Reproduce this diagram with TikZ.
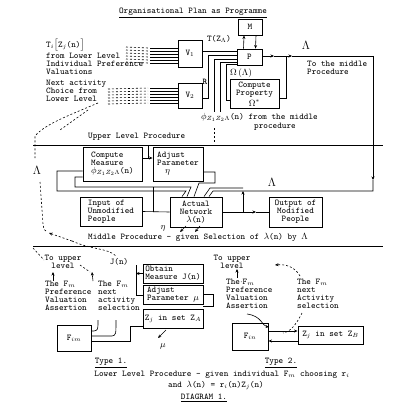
\documentclass[tikz,border=0pt]{standalone}
\usetikzlibrary{arrows.meta}
\begin{document}
\begin{tikzpicture}[x=1pt,y=-1pt,
 every node/.style={font=\fontsize{8.8}{8}\selectfont\ttfamily, inner sep=0pt},
 box/.style={draw, line width=0.9pt, inner sep=1.5pt, align=center},
 txt/.style={align=left, anchor=north west},
 ln/.style={line width=0.6pt},
 arr/.style={line width=0.6pt, -{Stealth[length=3.5pt,width=3pt]}},
 dsh/.style={line width=0.6pt, dash pattern=on 2pt off 2pt},
 dsharr/.style={line width=0.6pt, dash pattern=on 2pt off 2pt, -{Stealth[length=3.5pt,width=3pt]}},
 biglam/.style={font=\large}]
\fill[white] (0,0) rectangle (400,412);
\useasboundingbox (0,0) rectangle (400,412);

% ---------- title
\node (title) at (193,13) {\underline{Organisational Plan as Programme}};

% ---------- upper level
\node[txt] (tz) at (46,39) {T$_i\big[$Z$_j$(n)$\big]$};
\node[txt] (fll) at (46,53) {from Lower Level\\Individual Preference\\Valuations};
\node[txt] (nac) at (46,80) {Next activity\\Choice from\\Lower Level};

\node[box, minimum width=24, minimum height=27] (V1) at (190,53.5) {V$_1$};
\node[box, minimum width=24, minimum height=25] (V2) at (190,95.5) {V$_2$};
\node[box, minimum width=24, minimum height=16] (M) at (250,27) {M};
\node[box, minimum width=25, minimum height=16] (P) at (249.5,57) {P};
\node[box, minimum width=49, minimum height=29, inner sep=1pt] (CP) at (254.5,94) {Compute\\Property\\[1.5pt]$\Omega^*$};

\node (tzl) at (219,39) {T(Z$_\Lambda$)};
\node[biglam] (lam1) at (306,45) {$\Lambda$};
\node[txt] (tmp) at (307,61) {To the middle\\Procedure};
\node (om) at (241,73) {$\Omega\,(\Lambda)$};
\node (rr) at (205,82) {\textbf{R}};
\node[anchor=west] (phi) at (201,117) {$\phi_{Z_1Z_2\Lambda}$(n) from the middle};
\node (proc) at (275,127) {procedure};

% hatching into V1 / V2
\foreach \y in {48,51,54,57,60,63} {
  \draw[ln] (150,\y) -- (V1.west |- 0,\y);
  \draw[dsh] (126,\y-1) -- (148,\y);
}
\foreach \y in {88,91,94,97,100,103} {
  \draw[ln] (150,\y) -- (V2.west |- 0,\y);
  \draw[dsh] (108,\y+1) -- (148,\y);
}

% P and M
\draw[arr] ([xshift=-6pt]P.north) -- ([xshift=-6pt]M.south);
\draw[arr] ([xshift=6pt]M.south) -- ([xshift=6pt]P.north);
% inputs into P
\draw[ln] (V1.east |- 0,51) -- (P.west |- 0,51);
\draw[ln] (V2.east |- 0,98) -| (208,55) -- (P.west |- 0,55);
\draw[ln] (P.west |- 0,59) -| (214,112);
\draw[ln] (P.west |- 0,62) -| (220,112);
\draw[ln] (P.west |- 0,64) -| (226,100) -- (CP.west |- 0,100);
% output of P
\coordinate (R1) at (373,56);
\coordinate (R2) at (373,191);
\draw[arr] (P.east |- 0,56) -- (274,56);
\draw[arr] (274,56) -- (292,56);
\draw[ln] (292,56) -- (R1);
\draw[ln] (CP.east |- 0,98) -| (286,56);
\draw[arr] (R1) -- (373,180);
\draw[dsh] (214,128) -- (214,143);

% ---------- separators
\node[anchor=west] (ulp) at (88,137) {Upper Level Procedure};
\draw[line width=0.8pt] (33,145) -- (383,145);
\draw[line width=0.8pt] (33,246) -- (383,246);

% ---------- middle level
\node[box, minimum width=59, minimum height=34, align=left] (CM) at (112.5,164) {Compute\\Measure\\$\phi_{Z_1Z_2\Lambda}$(n)};
\node[box, minimum width=50, minimum height=34, align=left] (AP) at (178,164) {Adjust\\Parameter\\\hspace{8pt}$\eta$};
\node[box, minimum width=62, minimum height=29, align=left] (IN) at (111,211.5) {Input of\\Unmodified\\People};
\node[box, minimum width=52, minimum height=30] (AN) at (196,212) {Actual\\Network\\$\lambda$(n)};
\node[box, minimum width=53, minimum height=30] (OUT) at (295.5,212) {Output of\\Modified\\People};

\node[biglam] (lam2) at (37,170) {$\Lambda$};
\node[biglam] (lam3) at (272,182) {$\Lambda$};
\node (eta) at (163,228) {$\eta$};
\node[anchor=west] (mpt) at (88,237) {Middle Procedure - given Selection of $\lambda$(n) by $\Lambda$};

\draw[ln] (148,145) -- (148,158);
\draw[arr] (CM.east |- 0,158) -- (AP.west |- 0,158);
\draw[ln] (CM.west |- 0,171) -| (57,191) -- (186,191) -- (AN.north -| 182,0);
\draw[ln] (CM.west |- 0,177) -| (75,187) -- (191,187) -- (AN.north -| 187,0);
\draw[ln] (AP.east |- 0,172) -| (215,183) -- (199,183) -- (AN.north -| 194,0);
\draw[ln] (373,180) -- (R2) -- (213,191) -- (AN.north -| 209,0);
\draw[ln] (243,188) -- (210,188) -- (AN.north -| 204,0);
\draw[arr] (243,212) -- (243,191);
\draw[ln] (IN.east) -- (AN.west);
\draw[ln] (153,212) -- (153,187);
\draw[arr] (AN.east) -- (256,212);
\draw[ln] (256,212) -- (OUT.west);
\draw[arr] (186,226) -- (180,232);
\draw[arr] (200,226) -- (195,232);

% dashed feedback lines on the left
\draw[dsh] (98,103) .. controls (70,115) and (45,124) .. (35,136) -- (35,158);
\draw[dsh] (88,110) -- (60,130);
\draw[dsh] (40,182) -- (43,224) .. controls (44,230) .. (47,232);
\draw[dsharr] (72,241) -- (49,233);
\draw[dsh] (72,241) .. controls (92,250) and (108,248) .. (116,256);

% ---------- lower level, type 1
\node[align=center] (tul1) at (63,262) {To upper\\level};
\node[txt] (pva1) at (45,281) {The F$_m$\\Preference\\Valuation\\Assertion};
\node[txt] (nas1) at (98,281) {The F$_m$\\next\\activity\\selection};
\node (jn) at (119,262) {J(n)};
\node[box, minimum width=60, minimum height=19, align=left] (OB) at (173,273.5) {Obtain\\Measure J(n)};
\node[box, minimum width=60, minimum height=16, align=left] (AJ) at (173,295) {Adjust\\Parameter $\mu$};
\node[box, minimum width=60, minimum height=19] (ZA) at (173,318.5) {Z$_j$ in set Z$_A$};
\node[box, minimum width=34, minimum height=26] (F1) at (74,338) {F$_{im}$};
\node (mu) at (163,346) {$\mu$};

\draw[dsh] (33,248) -- (44,260);
\draw[arr] (53,281) -- (53,272);
\draw[dsh] (80,265) -- (90,272);
\draw[arr] (93,281) -- (92,272);
\draw[arr] (OB.west) -- (136,273.5);
\draw[ln] (136,265) -- (136,295) -- (AJ.west |- 0,295);
\draw[ln] (AJ.east |- 0,294) -| (213,306) -- (203,306);
\draw[ln] (F1.east |- 0,341) -- (130,341) -- (130,326) -- (ZA.west |- 0,326);
\draw[ln] (F1.east |- 0,331) -- (94,331) .. controls (98,330) .. (98,320);
\draw[ln] (F1.east |- 0,336) -- (112,336) .. controls (116,335) .. (116,320);
\draw[arr] (166,330) -- (158,338);

% ---------- lower level, type 2
\node[align=center] (tul2) at (232,262) {To upper\\level};
\node[txt] (pva2) at (226,279) {The$\cdot$F$_m$\\Preference\\Valuation\\Assertion};
\node[txt] (nas2) at (297,279) {The F$_m$\\next\\Activity\\selection};
\node[box, minimum width=36, minimum height=27] (F2) at (250,336.5) {F$_{in}$};
\node[box, minimum width=65, minimum height=18] (ZB) at (330.5,335) {Z$_j$ in set Z$_B$};

\draw[arr] (237,278) -- (237,269);
\draw[dsharr] (300,276) .. controls (295,267) and (286,264) .. (275,265);
\draw[dsh] (302,313) .. controls (296,325) and (290,332) .. (283,333);
\draw[arr] (247,314) .. controls (262,316) and (262,326) .. (269,327);
\draw[arr] (F2.east |- 0,331) -- (ZB.west |- 0,331);
\draw[arr] (ZB.west |- 0,341) -- (F2.east |- 0,341);

% ---------- captions
\node (t1) at (111,363) {\underline{Type 1.}};
\node (t2) at (281,363) {\underline{Type 2.}};
\node (llp) at (222,375) {Lower Level Procedure - given individual F$_m$ choosing r$_i$};
\node (eq) at (216,385) {and $\lambda$(n) = r$_i$(n)Z$_j$(n)};
\node (dg) at (204,398) {\underline{DIAGRAM 1.}};
\end{tikzpicture}
\end{document}
